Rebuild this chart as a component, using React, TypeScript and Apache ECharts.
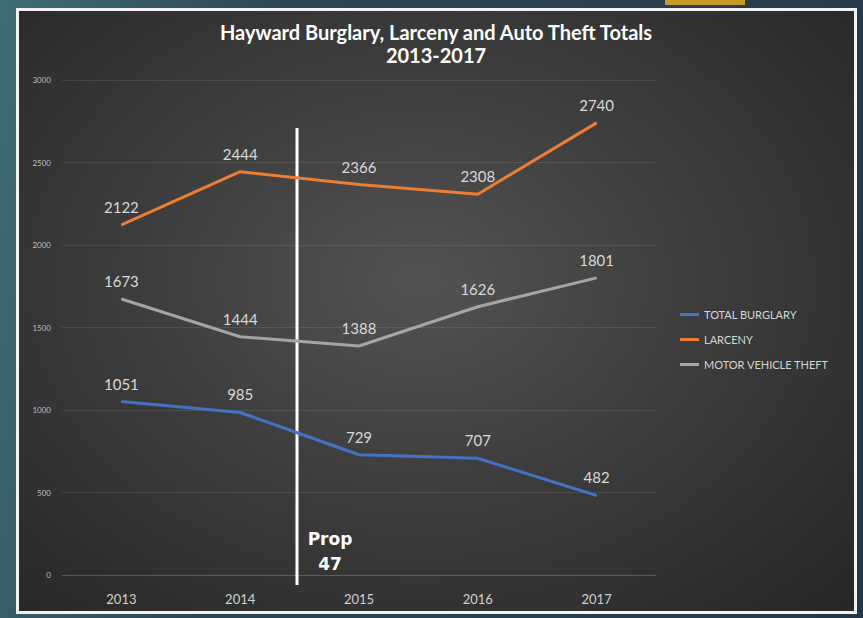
import React, { useEffect, useRef } from "react";
import * as echarts from "echarts";

const years = ["2013", "2014", "2015", "2016", "2017"];
const burglary = [1051, 985, 729, 707, 482];
const larceny = [2122, 2444, 2366, 2308, 2740];
const motorVehicle = [1673, 1444, 1388, 1626, 1801];
const seriesNames = ["TOTAL BURGLARY", "LARCENY", "MOTOR VEHICLE THEFT"];
const seriesColors = ["#4472c4", "#ed7d31", "#a5a5a5"];
const titleLines = ["Hayward Burglary, Larceny and Auto Theft Totals", "2013-2017"];
const annotation = ["Prop", "47"];

export default function App() {
  const ref = useRef<HTMLDivElement>(null);
  useEffect(() => {
    if (!ref.current) return;
    const chart = echarts.init(ref.current, undefined, { renderer: "svg" });
    const data = [burglary, larceny, motorVehicle];
    const font = "Lato, 'Open Sans', sans-serif";
    chart.setOption({
      animation: false,
      backgroundColor: "transparent",
      textStyle: { fontFamily: font },
      grid: { left: 62, right: 207, top: 80, bottom: 43, containLabel: false },
      xAxis: {
        type: "category",
        data: years,
        boundaryGap: true,
        axisLine: { show: true, lineStyle: { color: "rgba(255,255,255,0.12)", width: 1 } },
        axisTick: { show: false },
        axisLabel: { color: "#d0d0d0", fontSize: 13, margin: 17, fontFamily: font },
      },
      yAxis: {
        type: "value",
        min: 0,
        max: 3000,
        interval: 500,
        axisLine: { show: false },
        axisTick: { show: false },
        axisLabel: {
          color: "#bdbdbd",
          fontSize: 8,
          margin: 11,
          fontFamily: font,
          formatter: (v: number) => String(v),
        },
        splitLine: { lineStyle: { color: "rgba(255,255,255,0.09)", width: 1 } },
      },
      legend: {
        orient: "vertical",
        left: 680,
        top: 309,
        itemWidth: 19,
        itemHeight: 3,
        itemGap: 14,
        padding: 0,
        icon: "rect",
        textStyle: { color: "#d6d6d6", fontSize: 11, fontFamily: font },
        data: seriesNames,
      },
      series: seriesNames.map((name, i) => ({
        name,
        type: "line",
        data: data[i],
        color: seriesColors[i],
        lineStyle: { width: 3, color: seriesColors[i] },
        symbol: "circle",
        symbolSize: 1,
        showSymbol: true,
        itemStyle: { color: seriesColors[i] },
        label: {
          show: true,
          position: "top",
          distance: 10,
          color: "#d9d9d9",
          fontSize: 15,
          fontFamily: font,
        },
        emphasis: { disabled: true },
      })),
      graphic: [
        {
          type: "text",
          x: 436,
          y: 20,
          style: {
            text: titleLines.join("\n"),
            fill: "#ffffff",
            font: "bold 20px Lato, 'Open Sans', sans-serif",
            lineHeight: 23,
            align: "center",
          },
        },
        {
          type: "line",
          shape: { x1: 297, y1: 128, x2: 297, y2: 585 },
          style: { stroke: "#ffffff", lineWidth: 3 },
        },
        {
          type: "text",
          x: 330,
          y: 526,
          style: {
            text: annotation.join("\n"),
            fill: "#ffffff",
            font: "bold 17px 'DejaVu Sans', sans-serif",
            lineHeight: 25,
            align: "center",
          },
        },
      ],
    });
    return () => chart.dispose();
  }, []);

  return (
    <div
      style={{
        position: "fixed",
        left: 0,
        top: 0,
        width: 863,
        height: 618,
        overflow: "hidden",
        background: "linear-gradient(100deg, #3f6d74 0%, #2d4654 30%, #263848 100%)",
      }}
    >
      <div
        style={{
          position: "absolute",
          left: 665,
          top: 0,
          width: 80,
          height: 5,
          background: "#c79a2a",
        }}
      />
      <div
        style={{
          position: "absolute",
          left: 16,
          top: 8,
          width: 841,
          height: 606,
          boxSizing: "border-box",
          border: "3px solid #f2f2f2",
          background: "radial-gradient(ellipse at 48% 45%, #535353 0%, #3d3d3d 45%, #262626 100%)",
        }}
      />
      <div ref={ref} style={{ position: "absolute", left: 0, top: 0, width: 863, height: 618 }} />
    </div>
  );
}
